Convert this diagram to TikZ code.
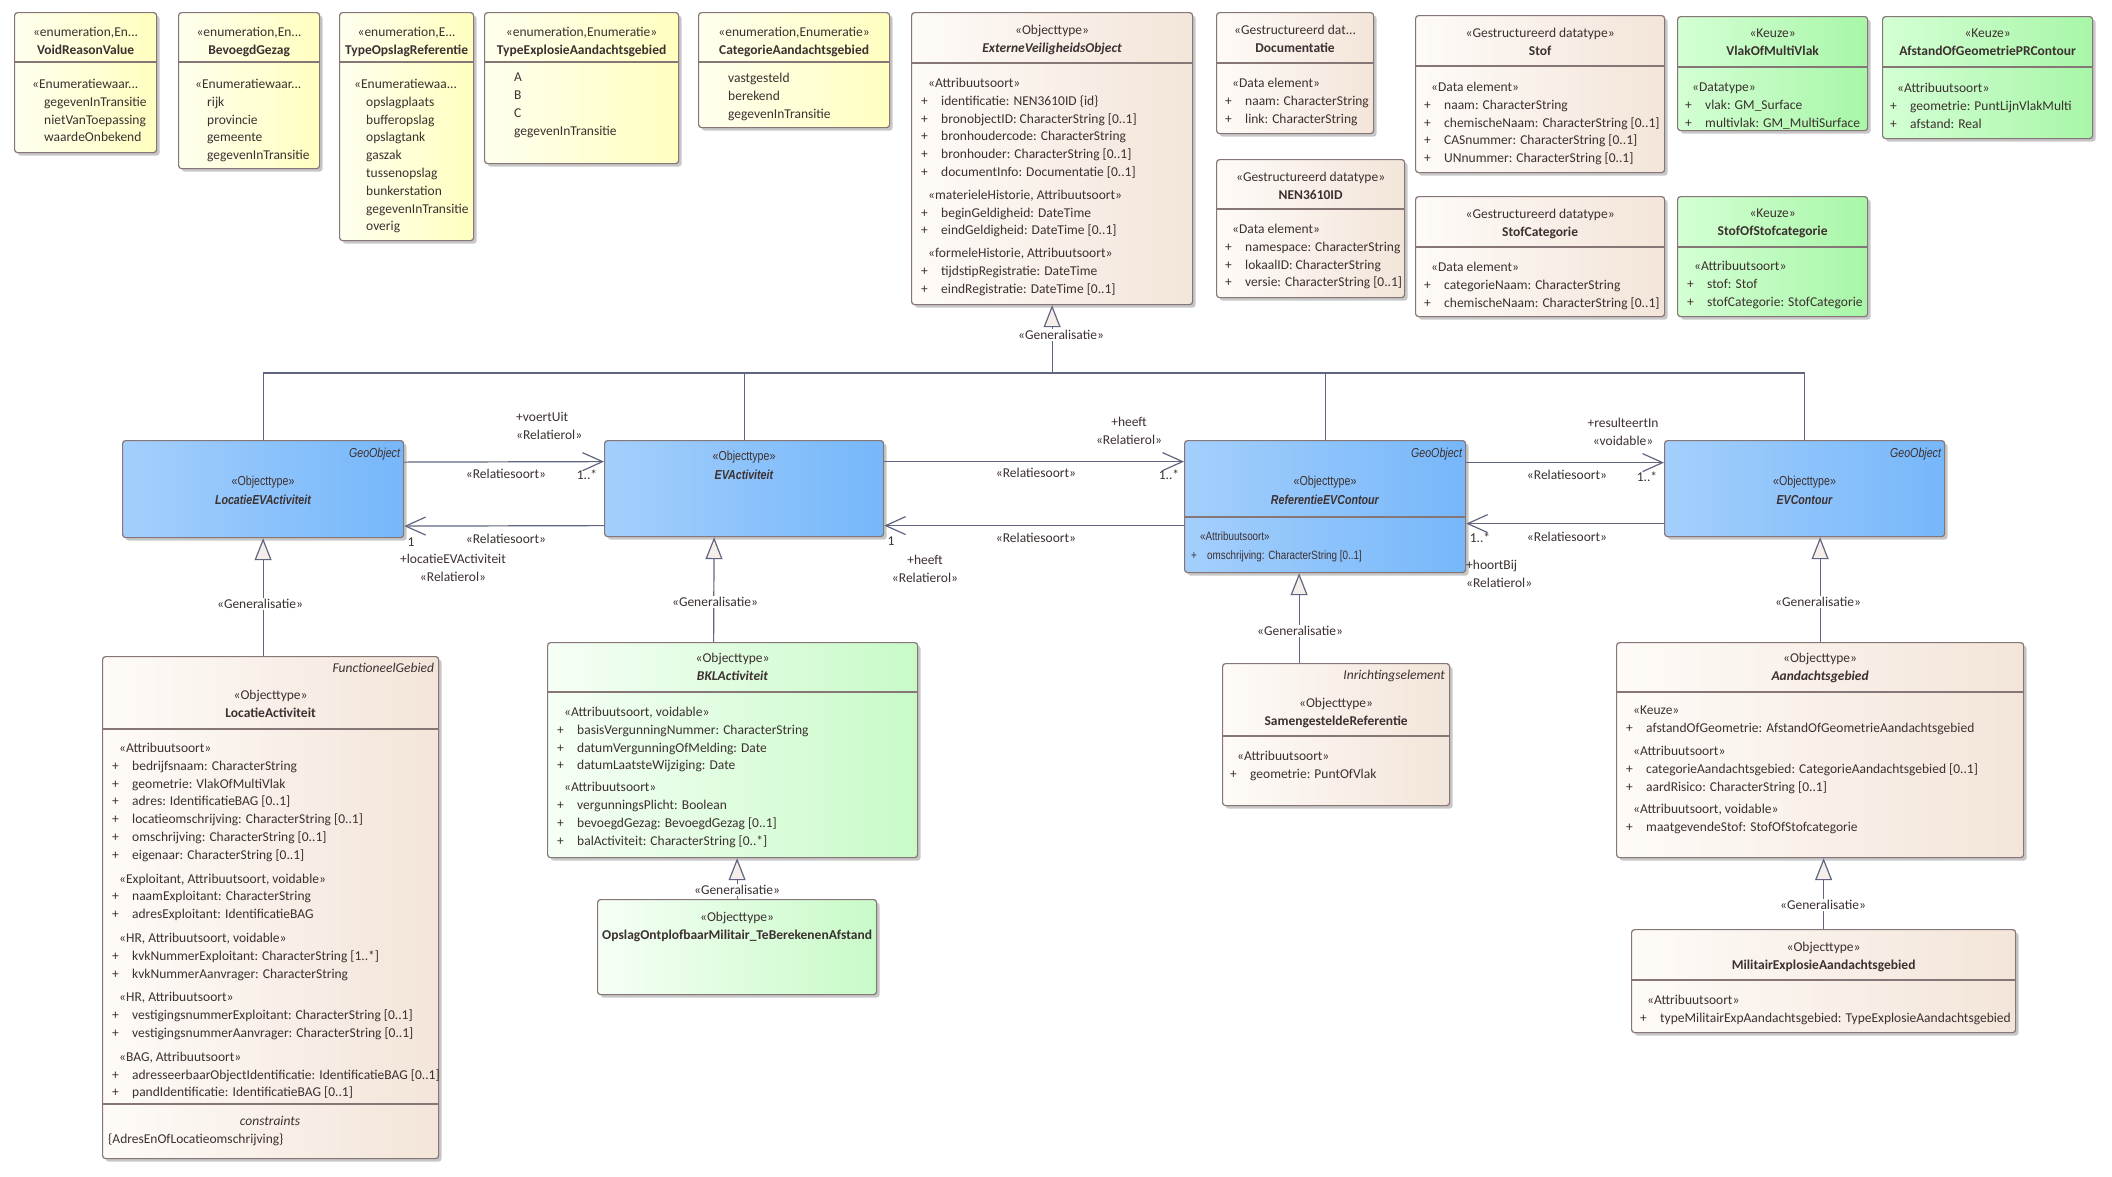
\documentclass[tikz,border=0pt]{standalone}
\usepackage{fontspec}
\setmainfont{Carlito}
\newfontfamily\narrowfam[FakeStretch=0.82]{Liberation Sans}
\usetikzlibrary{arrows.meta,positioning,shadows}

\definecolor{txtcol}{RGB}{60,48,48}
\definecolor{bordercol}{RGB}{135,118,118}
\definecolor{linecol}{RGB}{96,102,128}
\definecolor{genfill}{RGB}{246,238,234}
\definecolor{enumL}{RGB}{255,255,238}
\definecolor{enumR}{RGB}{255,255,192}
\definecolor{dataL}{RGB}{254,251,248}
\definecolor{dataR}{RGB}{243,229,217}
\definecolor{keuzeL}{RGB}{212,255,212}
\definecolor{keuzeR}{RGB}{168,246,168}
\definecolor{bklL}{RGB}{246,255,246}
\definecolor{bklR}{RGB}{200,250,200}
\definecolor{geoL}{RGB}{164,207,252}
\definecolor{geoR}{RGB}{118,183,250}

\newcommand{\umlfont}{\fontsize{13.5}{17.8}\selectfont}
\newcommand{\attrp}{\makebox[20pt][l]{+}}
\newcommand{\stereo}[1]{\hspace*{7pt}«#1»}
\newcommand{\enumval}{\hspace*{12pt}}

\begin{document}
\begin{tikzpicture}[
  x=1pt, y=-1pt,
  font=\umlfont, text=txtcol,
  box/.style={draw=bordercol, line width=1.2pt, rounded corners=3pt, anchor=north west, inner sep=0pt,
    drop shadow={shadow xshift=3pt, shadow yshift=-3pt, opacity=0.22, fill=black}},
  enumbox/.style={box, left color=enumL, right color=enumR},
  databox/.style={box, left color=dataL, right color=dataR},
  keuzebox/.style={box, left color=keuzeL, right color=keuzeR},
  bklbox/.style={box, left color=bklL, right color=bklR},
  geobox/.style={box, left color=geoL, right color=geoR},
  div/.style={draw=bordercol, line width=1.2pt},
  head/.style={anchor=north, inner sep=0pt, align=center, yshift=-3pt, execute at begin node={\rule{0pt}{11pt}}},
  bhead/.style={head, yshift=2pt, font=\narrowfam\fontsize{13}{19}\selectfont},
  comp/.style={anchor=north west, inner sep=0pt, align=left, yshift=-3pt, execute at begin node={\rule{0pt}{11pt}}},
  bcomp/.style={comp, yshift=2pt, font=\narrowfam\fontsize{12}{19}\selectfont},
  tag/.style={anchor=north east, inner sep=0pt, font=\umlfont\itshape, execute at begin node={\rule{0pt}{11pt}}},
  btag/.style={tag, font=\narrowfam\fontsize{13}{15}\selectfont\itshape},
  conn/.style={draw=linecol, line width=1.2pt},
  assoc/.style={conn, -{Straight Barb[length=20pt, width=18pt]}},
  gen/.style={conn, -{Triangle[length=22pt, width=17pt, fill=genfill]}},
  lbl/.style={inner sep=1pt},
  genlbl/.style={fill=white, inner sep=1pt}
]
\path[use as bounding box, fill=white] (0,0) rectangle (2112,1176);

% enumerations
\node[enumbox, minimum width=142pt, minimum height=140pt] (void) at (14,12) {};
\draw[div] (void.west |- 0,62) -- (void.east |- 0,62);
\node[head, below=12pt of void.north] (voidh) {«enumeration,En...\\\textbf{VoidReasonValue}};
\node[comp] (voidc) at (32,76) {«Enumeratiewaar...\\\enumval gegevenInTransitie\\\enumval nietVanToepassing\\\enumval waardeOnbekend};

\node[enumbox, minimum width=141pt, minimum height=156pt] (bevoegd) at (178,12) {};
\draw[div] (bevoegd.west |- 0,62) -- (bevoegd.east |- 0,62);
\node[head, below=12pt of bevoegd.north] (bevoegdh) {«enumeration,En...\\\textbf{BevoegdGezag}};
\node[comp] (bevoegdc) at (195,76) {«Enumeratiewaar...\\\enumval rijk\\\enumval provincie\\\enumval gemeente\\\enumval gegevenInTransitie};

\node[enumbox, minimum width=134pt, minimum height=228pt] (opslagref) at (339,12) {};
\draw[div] (opslagref.west |- 0,62) -- (opslagref.east |- 0,62);
\node[head, below=12pt of opslagref.north] (opslagrefh) {«enumeration,E...\\\textbf{TypeOpslagReferentie}};
\node[comp] (opslagrefc) at (354,76) {«Enumeratiewaa...\\\enumval opslagplaats\\\enumval bufferopslag\\\enumval opslagtank\\\enumval gaszak\\\enumval tussenopslag\\\enumval bunkerstation\\\enumval gegevenInTransitie\\\enumval overig};

\node[enumbox, minimum width=194pt, minimum height=151pt] (explosie) at (484,12) {};
\draw[div] (explosie.west |- 0,62) -- (explosie.east |- 0,62);
\node[head, below=12pt of explosie.north] (explosieh) {«enumeration,Enumeratie»\\\textbf{TypeExplosieAandachtsgebied}};
\node[comp] (explosiec) at (514,70) {A\\B\\C\\gegevenInTransitie};

\node[enumbox, minimum width=191pt, minimum height=115pt] (categorie) at (698,12) {};
\draw[div] (categorie.west |- 0,62) -- (categorie.east |- 0,62);
\node[head, below=12pt of categorie.north] (categorieh) {«enumeration,Enumeratie»\\\textbf{CategorieAandachtsgebied}};
\node[comp] (categoriec) at (728,70) {vastgesteld\\berekend\\gegevenInTransitie};

% datatypes
\node[databox, minimum width=281pt, minimum height=292pt] (evo) at (911,12) {};
\draw[div] (evo.west |- 0,63) -- (evo.east |- 0,63);
\node[head, below=10pt of evo.north] (evoh) {«Objecttype»\\\textbf{\textit{ExterneVeiligheidsObject}}};
\node[comp] (evoc) at (921,75) {\stereo{Attribuutsoort}\\
  \attrp identificatie: NEN3610ID \{id\}\\
  \attrp bronobjectID: CharacterString [0..1]\\
  \attrp bronhoudercode: CharacterString\\
  \attrp bronhouder: CharacterString [0..1]\\
  \attrp documentInfo: Documentatie [0..1]\\[5pt]
  \stereo{materieleHistorie, Attribuutsoort}\\
  \attrp beginGeldigheid: DateTime\\
  \attrp eindGeldigheid: DateTime [0..1]\\[5pt]
  \stereo{formeleHistorie, Attribuutsoort}\\
  \attrp tijdstipRegistratie: DateTime\\
  \attrp eindRegistratie: DateTime [0..1]};

\node[databox, minimum width=157pt, minimum height=121pt] (doc) at (1216,12) {};
\draw[div] (doc.west |- 0,63) -- (doc.east |- 0,63);
\node[head, below=10pt of doc.north] (doch) {«Gestructureerd dat...\\\textbf{Documentatie}};
\node[comp] (docc) at (1225,75) {\stereo{Data element}\\\attrp naam: CharacterString\\\attrp link: CharacterString};

\node[databox, minimum width=188pt, minimum height=138pt] (nen) at (1216,159) {};
\draw[div] (nen.west |- 0,209) -- (nen.east |- 0,209);
\node[head, below=10pt of nen.north] (nenh) {«Gestructureerd datatype»\\\textbf{NEN3610ID}};
\node[comp] (nenc) at (1225,221) {\stereo{Data element}\\\attrp namespace: CharacterString\\\attrp lokaalID: CharacterString\\\attrp versie: CharacterString [0..1]};

\node[databox, minimum width=249pt, minimum height=157pt] (stof) at (1415,15) {};
\draw[div] (stof.west |- 0,66) -- (stof.east |- 0,66);
\node[head, below=10pt of stof.north] (stofh) {«Gestructureerd datatype»\\\textbf{Stof}};
\node[comp] (stofc) at (1424,79) {\stereo{Data element}\\\attrp naam: CharacterString\\\attrp chemischeNaam: CharacterString [0..1]\\\attrp CASnummer: CharacterString [0..1]\\\attrp UNnummer: CharacterString [0..1]};

\node[databox, minimum width=249pt, minimum height=120pt] (stofcat) at (1415,196) {};
\draw[div] (stofcat.west |- 0,247) -- (stofcat.east |- 0,247);
\node[head, below=10pt of stofcat.north] (stofcath) {«Gestructureerd datatype»\\\textbf{StofCategorie}};
\node[comp] (stofcatc) at (1424,259) {\stereo{Data element}\\\attrp categorieNaam: CharacterString\\\attrp chemischeNaam: CharacterString [0..1]};

% keuzes
\node[keuzebox, minimum width=190pt, minimum height=114pt] (vlak) at (1677,16) {};
\draw[div] (vlak.west |- 0,67) -- (vlak.east |- 0,67);
\node[head, below=10pt of vlak.north] (vlakh) {«Keuze»\\\textbf{VlakOfMultiVlak}};
\node[comp] (vlakc) at (1685,80) {\stereo{Datatype}\\\attrp vlak: GM\_Surface\\\attrp multivlak: GM\_MultiSurface};

\node[keuzebox, minimum width=210pt, minimum height=122pt] (afstand) at (1882,16) {};
\draw[div] (afstand.west |- 0,67) -- (afstand.east |- 0,67);
\node[head, below=10pt of afstand.north] (afstandh) {«Keuze»\\\textbf{AfstandOfGeometriePRContour}};
\node[comp] (afstandc) at (1890,80) {\stereo{Attribuutsoort}\\\attrp geometrie: PuntLijnVlakMulti\\\attrp afstand: Real};

\node[keuzebox, minimum width=190pt, minimum height=120pt] (stofof) at (1677,196) {};
\draw[div] (stofof.west |- 0,247) -- (stofof.east |- 0,247);
\node[head, below=10pt of stofof.north] (stofofh) {«Keuze»\\\textbf{StofOfStofcategorie}};
\node[comp] (stofofc) at (1687,258) {\stereo{Attribuutsoort}\\\attrp stof: Stof\\\attrp stofCategorie: StofCategorie};

% geo objects
\node[geobox, minimum width=281pt, minimum height=97pt] (locev) at (122,440) {};
\node[btag] (locevt) at ([xshift=-4pt, yshift=-6pt]locev.north east) {GeoObject};
\node[bhead, below=35pt of locev.north] (locevh) {«Objecttype»\\\textbf{\textit{LocatieEVActiviteit}}};

\node[geobox, minimum width=279pt, minimum height=96pt] (evact) at (604,440) {};
\node[bhead, below=10pt of evact.north] (evacth) {«Objecttype»\\\textbf{\textit{EVActiviteit}}};

\node[geobox, minimum width=281pt, minimum height=132pt] (refev) at (1184,440) {};
\draw[div] (refev.west |- 0,517) -- (refev.east |- 0,517);
\node[btag] (refevt) at ([xshift=-4pt, yshift=-6pt]refev.north east) {GeoObject};
\node[bhead, below=35pt of refev.north] (refevh) {«Objecttype»\\\textbf{\textit{ReferentieEVContour}}};
\node[bcomp] (refevc) at (1191,531) {\hspace*{9pt}«Attribuutsoort»\\\makebox[16pt][l]{+}omschrijving: CharacterString [0..1]};

\node[geobox, minimum width=280pt, minimum height=96pt] (evcont) at (1664,440) {};
\node[btag] (evcontt) at ([xshift=-4pt, yshift=-6pt]evcont.north east) {GeoObject};
\node[bhead, below=35pt of evcont.north] (evconth) {«Objecttype»\\\textbf{\textit{EVContour}}};

% subtypes
\node[databox, minimum width=336pt, minimum height=502pt] (locact) at (102,656) {};
\draw[div] (locact.west |- 0,729) -- (locact.east |- 0,729);
\draw[div] (locact.west |- 0,1104) -- (locact.east |- 0,1104);
\node[tag] (locactt) at ([xshift=-5pt, yshift=-5pt]locact.north east) {FunctioneelGebied};
\node[head, below=31pt of locact.north] (locacth) {«Objecttype»\\\textbf{LocatieActiviteit}};
\node[comp] (locactc) at (112,740) {\stereo{Attribuutsoort}\\
  \attrp bedrijfsnaam: CharacterString\\
  \attrp geometrie: VlakOfMultiVlak\\
  \attrp adres: IdentificatieBAG [0..1]\\
  \attrp locatieomschrijving: CharacterString [0..1]\\
  \attrp omschrijving: CharacterString [0..1]\\
  \attrp eigenaar: CharacterString [0..1]\\[6pt]
  \stereo{Exploitant, Attribuutsoort, voidable}\\
  \attrp naamExploitant: CharacterString\\
  \attrp adresExploitant: IdentificatieBAG\\[6pt]
  \stereo{HR, Attribuutsoort, voidable}\\
  \attrp kvkNummerExploitant: CharacterString [1..*]\\
  \attrp kvkNummerAanvrager: CharacterString\\[6pt]
  \stereo{HR, Attribuutsoort}\\
  \attrp vestigingsnummerExploitant: CharacterString [0..1]\\
  \attrp vestigingsnummerAanvrager: CharacterString [0..1]\\[6pt]
  \stereo{BAG, Attribuutsoort}\\
  \attrp adresseerbaarObjectIdentificatie: IdentificatieBAG [0..1]\\
  \attrp pandIdentificatie: IdentificatieBAG [0..1]};
\node[head] (locactk) at (270,1111) {\textit{constraints}};
\node[comp] (locactr) at (108,1129) {\{AdresEnOfLocatieomschrijving\}};

\node[bklbox, minimum width=370pt, minimum height=215pt] (bkl) at (547,642) {};
\draw[div] (bkl.west |- 0,692) -- (bkl.east |- 0,692);
\node[head, below=8pt of bkl.north] (bklh) {«Objecttype»\\\textbf{\textit{BKLActiviteit}}};
\node[comp] (bklc) at (557,704) {\stereo{Attribuutsoort, voidable}\\
  \attrp basisVergunningNummer: CharacterString\\
  \attrp datumVergunningOfMelding: Date\\
  \attrp datumLaatsteWijziging: Date\\[4pt]
  \stereo{Attribuutsoort}\\
  \attrp vergunningsPlicht: Boolean\\
  \attrp bevoegdGezag: BevoegdGezag [0..1]\\
  \attrp balActiviteit: CharacterString [0..*]};

\node[bklbox, minimum width=279pt, minimum height=95pt] (opslag) at (597,899) {};
\node[head, below=10pt of opslag.north] (opslagh) {«Objecttype»\\\textbf{OpslagOntplofbaarMilitair\_TeBerekenenAfstand}};

\node[databox, minimum width=227pt, minimum height=142pt] (sam) at (1222,663) {};
\draw[div] (sam.west |- 0,736) -- (sam.east |- 0,736);
\node[tag] (samt) at ([xshift=-5pt, yshift=-5pt]sam.north east) {Inrichtingselement};
\node[head, below=32pt of sam.north] (samh) {«Objecttype»\\\textbf{SamengesteldeReferentie}};
\node[comp] (samc) at (1230,748) {\stereo{Attribuutsoort}\\\attrp geometrie: PuntOfVlak};

\node[databox, minimum width=407pt, minimum height=215pt] (aand) at (1616,642) {};
\draw[div] (aand.west |- 0,692) -- (aand.east |- 0,692);
\node[head, below=8pt of aand.north] (aandh) {«Objecttype»\\\textbf{\textit{Aandachtsgebied}}};
\node[comp] (aandc) at (1626,703) {\stereo{Keuze}\\
  \attrp afstandOfGeometrie: AfstandOfGeometrieAandachtsgebied\\[5pt]
  \stereo{Attribuutsoort}\\
  \attrp categorieAandachtsgebied: CategorieAandachtsgebied [0..1]\\
  \attrp aardRisico: CharacterString [0..1]\\[5pt]
  \stereo{Attribuutsoort, voidable}\\
  \attrp maatgevendeStof: StofOfStofcategorie};

\node[databox, minimum width=384pt, minimum height=103pt] (mil) at (1631,929) {};
\draw[div] (mil.west |- 0,980) -- (mil.east |- 0,980);
\node[head, below=10pt of mil.north] (milh) {«Objecttype»\\\textbf{MilitairExplosieAandachtsgebied}};
\node[comp] (milc) at (1640,992) {\stereo{Attribuutsoort}\\\attrp typeMilitairExpAandachtsgebied: TypeExplosieAandachtsgebied};

% generalisation bus
\coordinate (bus) at (evo.south |- 0,373);
\draw[conn] (locev.north) |- (evcont.north |- bus) -- (evcont.north);
\draw[conn] (evact.north) -- (evact.north |- bus);
\draw[conn] (refev.north) -- (refev.north |- bus);
\draw[gen] (bus) -- (evo.south);

% generalisations
\draw[gen] (locev.south |- locact.north) -- (locev.south);
\draw[gen] ([xshift=-19pt]bkl.north) -- ([xshift=-30pt]evact.south);
\draw[gen] (opslag.north) -- (opslag.north |- bkl.south);
\draw[gen] ([xshift=-37pt]sam.north) -- ([xshift=-26pt]refev.south);
\draw[gen] (aand.north) -- (aand.north |- evcont.south);
\draw[gen] (mil.north) -- (mil.north |- aand.south);

% associations
\draw[assoc] ([yshift=27pt]locev.east) -- ([yshift=27pt]evact.west);
\draw[assoc] ([yshift=-37pt]evact.west) -- ([yshift=-37pt]locev.east);
\draw[assoc] ([yshift=27pt]evact.east) -- ([yshift=45pt]refev.west);
\draw[assoc] ([yshift=-19pt]refev.west) -- ([yshift=-37pt]evact.east);
\draw[assoc] ([yshift=44pt]refev.east) -- ([yshift=26pt]evcont.west);
\draw[assoc] ([yshift=-35pt]evcont.west) -- ([yshift=-17pt]refev.east);

% labels
\node[genlbl] (g0) at (1061,335) {«Generalisatie»};
\node[genlbl] (g1) at (260,604) {«Generalisatie»};
\node[genlbl] (g2) at (715,602) {«Generalisatie»};
\node[genlbl] (g3) at (737,890) {«Generalisatie»};
\node[genlbl] (g4) at (1300,631) {«Generalisatie»};
\node[genlbl] (g5) at (1818,602) {«Generalisatie»};
\node[genlbl] (g6) at (1823,905) {«Generalisatie»};

\node[lbl, anchor=west, align=left] (l1) at (515,426) {+voertUit\\«Relatierol»};
\node[lbl] (l2) at (506,474) {«Relatiesoort»};
\node[lbl] (l3) at (587,475) {1..*};
\node[lbl] (l4) at (506,539) {«Relatiesoort»};
\node[lbl] (l5) at (411,542) {1};
\node[lbl, align=center] (l6) at (453,568) {+locatieEVActiviteit\\«Relatierol»};
\node[lbl, align=center] (l7) at (1129,431) {+heeft\\«Relatierol»};
\node[lbl] (l8) at (1036,473) {«Relatiesoort»};
\node[lbl] (l9) at (1169,475) {1..*};
\node[lbl] (l10) at (891,541) {1};
\node[lbl] (l11) at (1036,538) {«Relatiesoort»};
\node[lbl, align=center] (l12) at (925,569) {+heeft\\«Relatierol»};
\node[lbl, align=center] (l13) at (1623,432) {+resulteertIn\\«voidable»};
\node[lbl] (l14) at (1567,475) {«Relatiesoort»};
\node[lbl] (l15) at (1647,477) {1..*};
\node[lbl] (l16) at (1480,538) {1..*};
\node[lbl] (l17) at (1567,537) {«Relatiesoort»};
\node[lbl, anchor=west, align=left] (l18) at (1465,574) {+hoortBij\\«Relatierol»};
\end{tikzpicture}
\end{document}
